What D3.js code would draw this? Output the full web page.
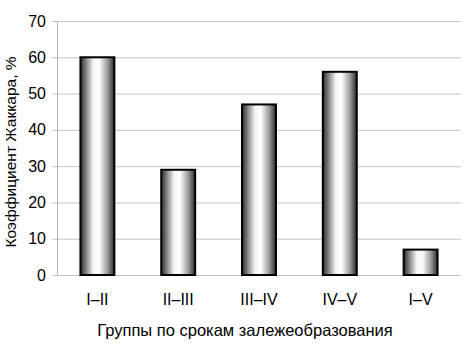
<!DOCTYPE html>
<html>
<head>
<meta charset="utf-8">
<script src="https://cdn.jsdelivr.net/npm/d3@7"></script>
<style>
  body { margin: 0; background: #fff; }
  svg { display: block; font-family: "Liberation Sans", Arial, sans-serif; }
</style>
</head>
<body>
<svg id="chart"></svg>
<script>
// data
var groups = ['I\u2013II', 'II\u2013III', 'III\u2013IV', 'IV\u2013V', 'I\u2013V'];
var jaccard = [60, 29, 47, 56, 7];
var yTicks = [0, 10, 20, 30, 40, 50, 60, 70];

var svgWidth = 468, svgHeight = 348;
var plotLeft = 57, plotRight = 461, plotTop = 21, plotBottom = 275;

var svg = d3.select('#chart')
    .attr('width', svgWidth)
    .attr('height', svgHeight);

// bar shading, dark edges with light middle
var grad = svg.append('defs').append('linearGradient')
    .attr('id', 'barGrad')
    .attr('x1', '0%').attr('x2', '100%').attr('y1', '0%').attr('y2', '0%');
[[0, '#2a2a2a'], [0.15, '#7a7a7a'], [0.38, '#f4f4f4'], [0.55, '#ffffff'], [0.8, '#9a9a9a'], [1, '#2a2a2a']]
    .forEach(function (s) {
        grad.append('stop').attr('offset', s[0]).attr('stop-color', s[1]);
    });

var xScale = d3.scaleBand()
    .domain(groups)
    .range([plotLeft, plotRight])
    .paddingInner(0.58)
    .paddingOuter(0.29);

var yScale = d3.scaleLinear()
    .domain([0, 70])
    .range([plotBottom, plotTop]);

// gridlines
svg.append('g')
    .selectAll('line')
    .data(yTicks)
    .enter()
    .append('line')
    .attr('x1', plotLeft - 5)
    .attr('x2', plotRight)
    .attr('y1', function (d) { return yScale(d) + 0.5; })
    .attr('y2', function (d) { return yScale(d) + 0.5; })
    .attr('stroke', '#c4c4c4')
    .attr('stroke-width', 1);

// left axis line
svg.append('line')
    .attr('x1', plotLeft + 0.5).attr('x2', plotLeft + 0.5)
    .attr('y1', plotTop).attr('y2', plotBottom)
    .attr('stroke', '#b0b0b0');

// y tick labels
var y_axis = d3.axisLeft(yScale).tickValues(yTicks).tickSize(0).tickPadding(11);
var gy = svg.append('g')
    .attr('transform', 'translate(' + plotLeft + ',0)')
    .call(y_axis);
gy.select('.domain').remove();
gy.selectAll('text')
    .attr('font-size', 16)
    .attr('fill', '#000')
    .style('font-family', '"Liberation Sans", Arial, sans-serif');

// bars
svg.selectAll('rect.bar')
    .data(jaccard)
    .enter()
    .append('rect')
    .attr('class', 'bar')
    .attr('x', function (d, i) { return xScale(groups[i]); })
    .attr('y', function (d) { return yScale(d); })
    .attr('width', xScale.bandwidth())
    .attr('height', function (d) { return plotBottom - yScale(d); })
    .attr('fill', 'url(#barGrad)')
    .attr('stroke', '#000')
    .attr('stroke-width', 2);

// x tick labels
var x_axis = d3.axisBottom(xScale).tickSize(0).tickPadding(19);
var gx = svg.append('g')
    .attr('transform', 'translate(0,' + plotBottom + ')')
    .call(x_axis);
gx.select('.domain').remove();
gx.selectAll('text')
    .attr('font-size', 16)
    .attr('fill', '#000')
    .style('font-family', '"Liberation Sans", Arial, sans-serif');

// axis titles
svg.append('text')
    .attr('x', 245)
    .attr('y', 336)
    .attr('text-anchor', 'middle')
    .attr('font-size', 16.5)
    .text('Группы по срокам залежеобразования');

svg.append('text')
    .attr('transform', 'translate(16,152) rotate(-90)')
    .attr('text-anchor', 'middle')
    .attr('font-size', 15.5)
    .text('Коэффициент Жаккара, %');
</script>
</body>
</html>
